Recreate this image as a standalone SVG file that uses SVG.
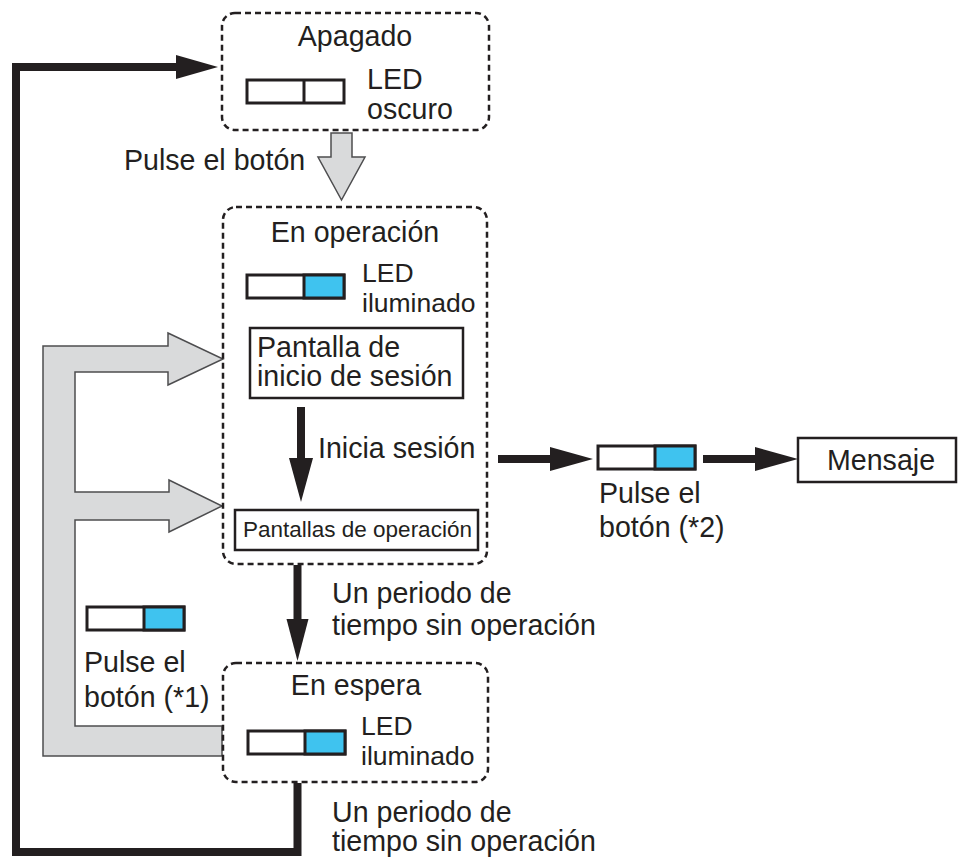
<svg xmlns="http://www.w3.org/2000/svg" width="961" height="859" viewBox="0 0 961 859">
  <style>
    text { font-family: "Liberation Sans", Arial, sans-serif; fill: #231f20; }
    .t28 { font-size: 28.6px; }
    .t27 { font-size: 26.5px; }
    .t22 { font-size: 22.5px; }
    .mid { text-anchor: middle; }
    .state { fill: none; stroke: #231f20; stroke-width: 2.5; stroke-dasharray: 6 4; }
    .screen { fill: #fff; stroke: #231f20; stroke-width: 2.5; }
    .led { fill: #fff; stroke: #231f20; stroke-width: 3; }
    .led-on { fill: #3fc3ef; stroke: #231f20; stroke-width: 3; }
    .wire { fill: none; stroke: #231f20; stroke-width: 8; }
    .head { fill: #231f20; }
    .big { fill: #d9dadb; stroke: #4d4d4f; stroke-width: 1.5; }
  </style>
  <defs>
    <!-- LED indicator: white half, off half -->
    <g id="led-off">
      <rect class="led" x="0" y="0" width="97" height="23"/>
      <line x1="57" y1="0" x2="57" y2="23" stroke="#231f20" stroke-width="3"/>
    </g>
    <!-- LED indicator: white half, lit half -->
    <g id="led-lit">
      <rect class="led" x="0" y="0" width="97" height="23"/>
      <rect class="led-on" x="57" y="0" width="40" height="23"/>
    </g>
  </defs>

  <rect width="961" height="859" fill="#fff"/>

  <!-- connectors -->
  <g id="connectors">
    <!-- return to power-off loop -->
    <polyline class="wire" points="297.5,783 297.5,852 16,852 16,67 180,67"/>
    <polygon class="head" points="176,55 218,67 176,79"/>

    <!-- button press: power-off to operating -->
    <polygon class="big" points="331,133 352,133 352,157 365,157 341.5,200 318,157 331,157"/>

    <!-- login screen to operation screens -->
    <line class="wire" x1="301" y1="407" x2="301" y2="462" stroke-width="10"/>
    <polygon class="head" points="289,458 313,458 301,502"/>

    <!-- operating to standby -->
    <line class="wire" x1="297.5" y1="565" x2="297.5" y2="622"/>
    <polygon class="head" points="286.5,619 308.5,619 297.5,661"/>

    <!-- operating to message -->
    <line class="wire" x1="498" y1="459" x2="555" y2="459"/>
    <polygon class="head" points="550,447 593,459 550,471"/>
    <line class="wire" x1="703" y1="459" x2="760" y2="459"/>
    <polygon class="head" points="755,447 798,459 755,471"/>

    <!-- standby back to login / operation screens -->
    <polygon class="big" points="222,726 75,726 75,520 169,520 169,532 222,506 169,480 169,492 75,492 75,372 168,372 168,385 223,359 168,333 168,346 43,346 43,756 222,756"/>
  </g>

  <!-- power off -->
  <g id="node-off">
    <rect class="state" x="222" y="13" width="267" height="117" rx="13"/>
    <text class="t28 mid" x="355" y="46">Apagado</text>
    <use href="#led-off" x="247" y="80"/>
    <text class="t28" x="367" y="89">LED</text>
    <text class="t28" x="367" y="119">oscuro</text>
  </g>

  <text id="label-press" class="t28" x="124" y="170">Pulse el botón</text>

  <!-- operating -->
  <g id="node-operating">
    <rect class="state" x="223" y="207" width="264" height="357" rx="13"/>
    <text class="t28 mid" x="355" y="242">En operación</text>
    <use href="#led-lit" x="247" y="275"/>
    <text class="t27" x="362" y="282">LED</text>
    <text class="t27" x="362" y="312">iluminado</text>
  </g>

  <g id="node-login">
    <rect class="screen" x="250" y="328" width="213" height="70"/>
    <text class="t28" x="257" y="357">Pantalla de</text>
    <text class="t28" x="257" y="386">inicio de sesión</text>
  </g>

  <text id="label-login" class="t28" x="318" y="458">Inicia sesión</text>

  <g id="node-screens">
    <rect class="screen" x="235" y="510" width="243" height="40"/>
    <text class="t22" x="243" y="537">Pantallas de operación</text>
  </g>

  <text id="label-idle1" class="t28" x="332" y="603">Un periodo de</text>
  <text class="t28" x="332" y="635">tiempo sin operación</text>

  <!-- button press from standby -->
  <g id="note-press1">
    <use href="#led-lit" x="87" y="607"/>
    <text class="t28" x="84" y="672">Pulse el</text>
    <text class="t28" x="84" y="707">botón (*1)</text>
  </g>

  <!-- standby -->
  <g id="node-standby">
    <rect class="state" x="223" y="663" width="265" height="119" rx="13"/>
    <text class="t28 mid" x="356" y="695">En espera</text>
    <use href="#led-lit" x="248" y="731"/>
    <text class="t27" x="361" y="735">LED</text>
    <text class="t27" x="361" y="765">iluminado</text>
  </g>

  <text id="label-idle2" class="t28" x="332" y="822">Un periodo de</text>
  <text class="t28" x="332" y="851">tiempo sin operación</text>

  <!-- button press while operating -->
  <g id="note-press2">
    <use href="#led-lit" x="598" y="446"/>
    <text class="t28" x="599" y="503">Pulse el</text>
    <text class="t28" x="599" y="537">botón (*2)</text>
  </g>

  <g id="node-message">
    <rect class="screen" x="798" y="438" width="158" height="44"/>
    <text class="t28" x="827" y="470">Mensaje</text>
  </g>
</svg>
